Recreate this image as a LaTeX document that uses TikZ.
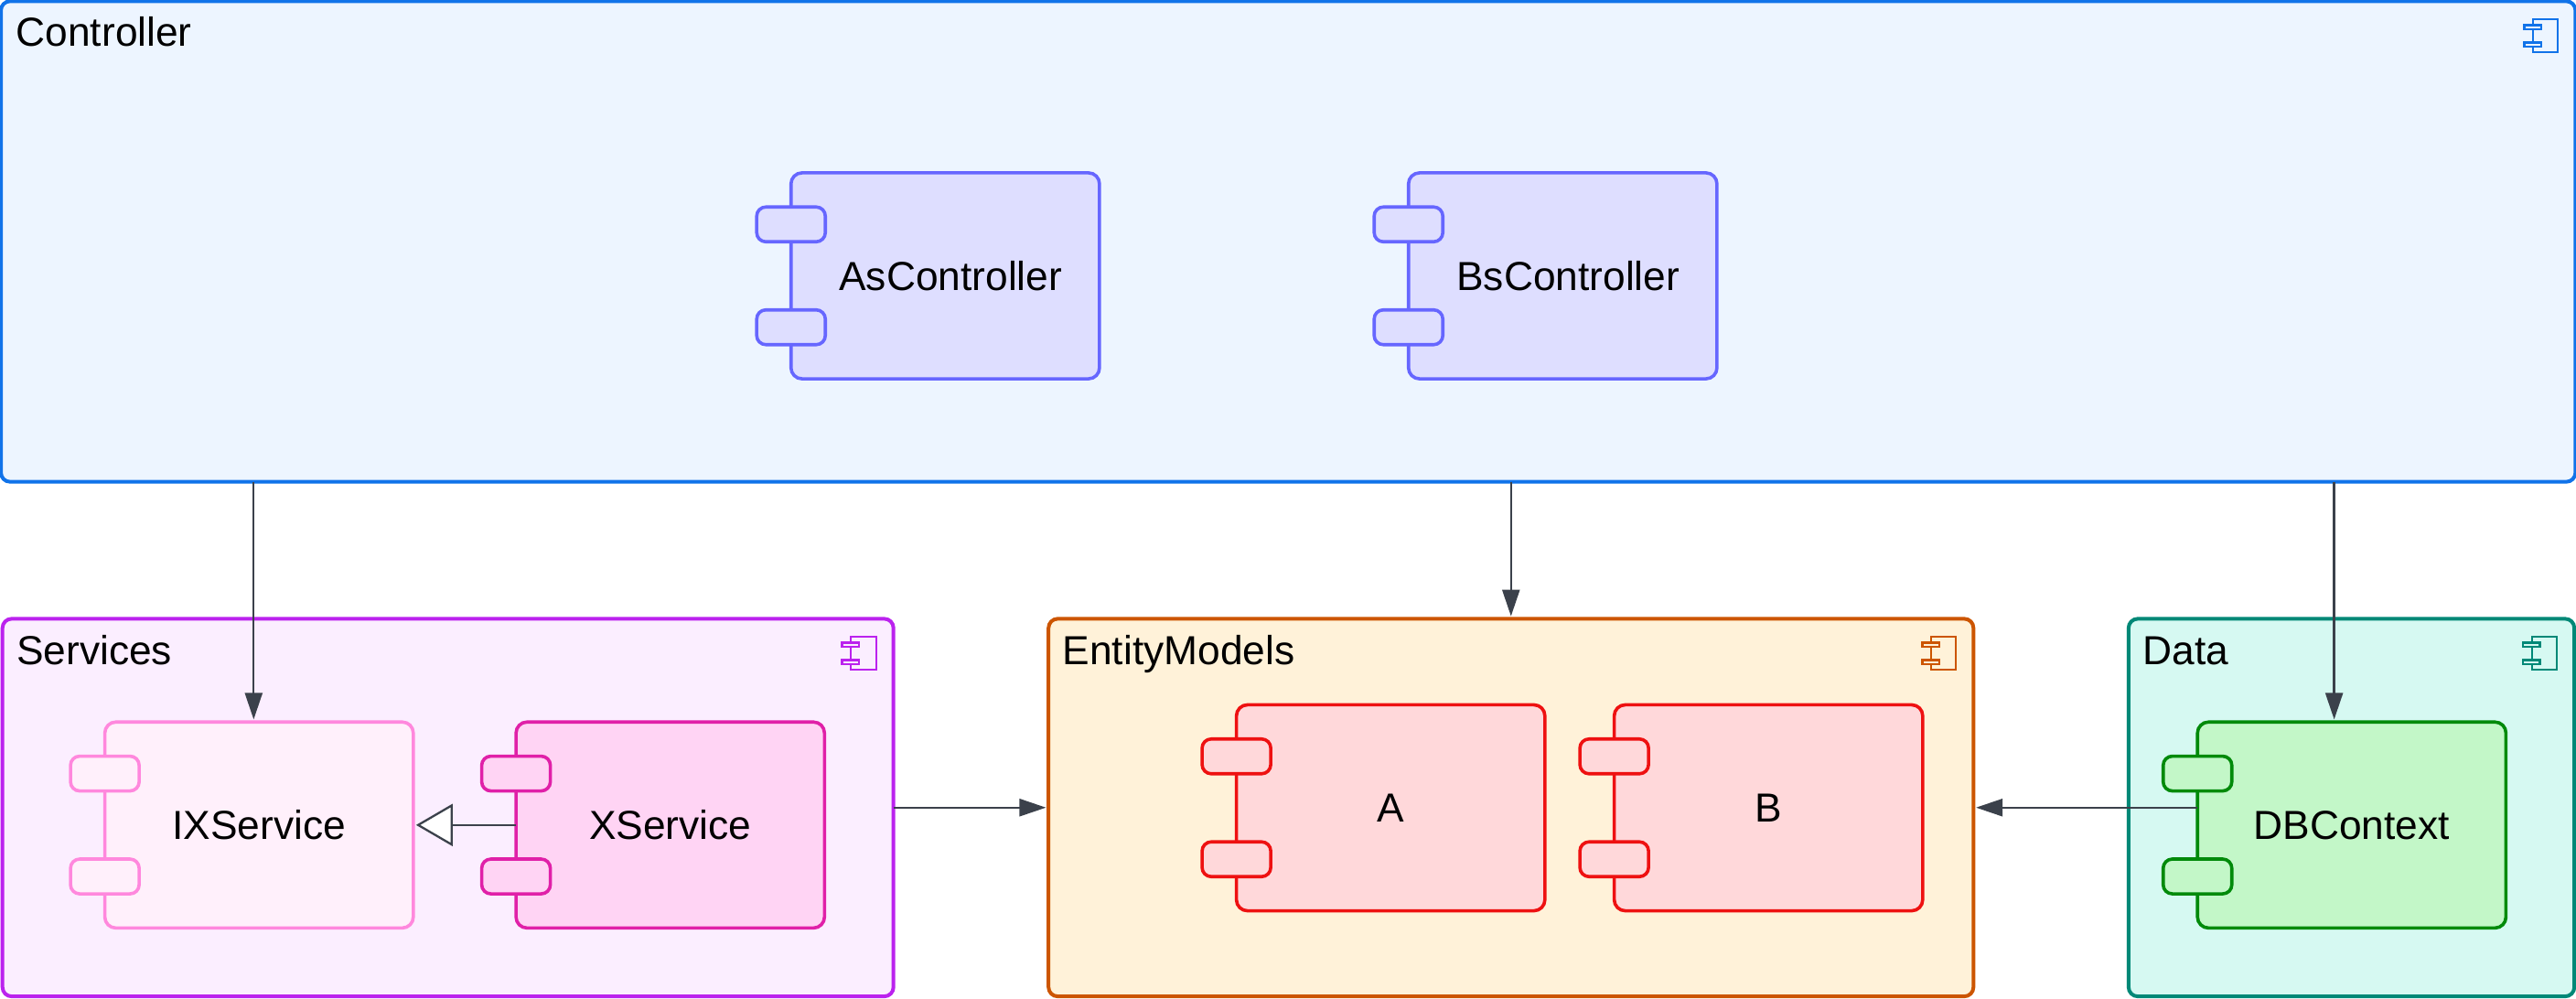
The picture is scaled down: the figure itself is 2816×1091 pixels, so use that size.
\documentclass[tikz,border=0pt]{standalone}
\usepackage{fontspec}
\setmainfont{Liberation Sans}
\usetikzlibrary{arrows.meta}
% Colours
\definecolor{ctrlline}{HTML}{1173E9}
\definecolor{ctrlfill}{HTML}{EDF5FF}
\definecolor{asline}{HTML}{6666FF}
\definecolor{asfill}{HTML}{DEDEFF}
\definecolor{svcline}{HTML}{BB22EE}
\definecolor{svcfill}{HTML}{FBEEFF}
\definecolor{ixline}{HTML}{FF88DD}
\definecolor{ixfill}{HTML}{FFF0FB}
\definecolor{xsline}{HTML}{E020A8}
\definecolor{xsfill}{HTML}{FFD4F4}
\definecolor{entline}{HTML}{CC5500}
\definecolor{entfill}{HTML}{FFF2D9}
\definecolor{modline}{HTML}{EE1111}
\definecolor{modfill}{HTML}{FFD8DA}
\definecolor{dataline}{HTML}{008877}
\definecolor{datafill}{HTML}{D6F9F2}
\definecolor{dbline}{HTML}{008A0A}
\definecolor{dbfill}{HTML}{C3F7C8}
\definecolor{flowline}{HTML}{3B414B}
\tikzset{
  groupbox/.style={draw,rounded corners=.1cm,line width=.04cm,outer sep=0pt,inner sep=0pt},
  grouptitle/.style={anchor=base west,inner sep=0pt,font=\fontsize{12.6}{14}\selectfont},
  compbody/.style={draw,rounded corners=.12cm,line width=.036cm,outer sep=0pt,inner sep=0pt,
    minimum width=3.37cm,minimum height=2.25cm,font=\fontsize{12.6}{14}\selectfont},
  portbox/.style={draw,rounded corners=.1cm,line width=.036cm,outer sep=0pt,inner sep=0pt,
    minimum width=.75cm,minimum height=.38cm},
  flow/.style={draw=flowline,line width=.023cm,-{Triangle[length=.29cm,width=.19cm]},flowline,shorten >=.028cm},
  implements/.style={draw=flowline,line width=.023cm,-{Triangle[open,length=.4cm,width=.46cm,fill=white]},shorten >=.03cm},
}
% Two ports on the left side of a component
\newcommand{\compports}[2]{%
  \node[portbox,#2,yshift=.562cm] (#1porta) at (#1.west) {};
  \node[portbox,#2,yshift=-.562cm] (#1portb) at (#1.west) {};
}
% Small component icon in the corner of a group
\newcommand{\groupicon}[3]{%
  \begin{scope}[shift={(#1.north east)},draw=#2]
    \draw[line width=.021cm](-46.5,20) rectangle (-19,56);
    \draw[line width=.026cm,fill=#3](-56,26) rectangle (-37.5,30.5);
    \draw[line width=.026cm,fill=#3](-56,45) rectangle (-37.5,49.5);
  \end{scope}
}
\begin{document}
\begin{tikzpicture}[x=.01cm,y=-.01cm]
        \useasboundingbox (0,0) rectangle (2816,1091);
        % Groups
        \node[groupbox,draw=ctrlline,fill=ctrlfill,minimum width=28.127cm,minimum height=5.25cm] (controller) at (1408.2,264) {};
        \node[groupbox,draw=svcline,fill=svcfill,minimum width=9.734cm,minimum height=4.125cm] (services) at (489.7,882.75) {};
        \node[groupbox,draw=entline,fill=entfill,minimum width=10.105cm,minimum height=4.125cm] (entitymodels) at (1651.75,882.75) {};
        \node[groupbox,draw=dataline,fill=datafill,minimum width=4.87cm,minimum height=4.125cm] (data) at (2570.5,882.75) {};
        % Group titles
        \node[grouptitle] (controllertitle) at (17,51) {Controller};
        \node[grouptitle] (servicestitle) at (17.5,726) {Services};
        \node[grouptitle] (entitytitle) at (1161,726) {EntityModels};
        \node[grouptitle] (datatitle) at (2342,726) {Data};
        % Group icons
        \groupicon{controller}{ctrlline}{ctrlfill}
        \groupicon{services}{svcline}{svcfill}
        \groupicon{entitymodels}{entline}{entfill}
        \groupicon{data}{dataline}{datafill}
        % Components
        \node[compbody,draw=asline,fill=asfill] (ascontroller) at (1033.3,301.5) {\hspace*{.12cm}AsController};
        \node[compbody,draw=asline,fill=asfill] (bscontroller) at (1708.3,301.5) {\hspace*{.12cm}BsController};
        \node[compbody,draw=ixline,fill=ixfill] (ixservice) at (283.2,901.8) {IXService};
        \node[compbody,draw=xsline,fill=xsfill] (xservice) at (732.7,901.8) {XService};
        \node[compbody,draw=modline,fill=modfill] (amodel) at (1520.2,883) {A};
        \node[compbody,draw=modline,fill=modfill] (bmodel) at (1933.2,883) {B};
        \node[compbody,draw=dbline,fill=dbfill] (dbcontext) at (2570.8,901.8) {DBContext};
        % Ports
        \compports{ascontroller}{draw=asline,fill=asfill}
        \compports{bscontroller}{draw=asline,fill=asfill}
        \compports{ixservice}{draw=ixline,fill=ixfill}
        \compports{xservice}{draw=xsline,fill=xsfill}
        \compports{amodel}{draw=modline,fill=modfill}
        \compports{bmodel}{draw=modline,fill=modfill}
        \compports{dbcontext}{draw=dbline,fill=dbfill}
        % Connectors
        \coordinate (ixentry) at (277.3,0);
        \coordinate (dbentry) at (2551.6,0);
        \draw[flow](controller.south -| ixentry)--(ixservice.north -| ixentry);
        \draw[flow](controller.south -| entitymodels.north)--(entitymodels.north);
        \draw[flow](controller.south -| dbentry)--(dbcontext.north -| dbentry);
        \draw[flow](services.east)--(entitymodels.west);
        \draw[flow](dbcontext.west |- entitymodels.east)--(entitymodels.east);
        \draw[implements](xservice.west)--(ixservice.east);
    \end{tikzpicture}
\end{document}
